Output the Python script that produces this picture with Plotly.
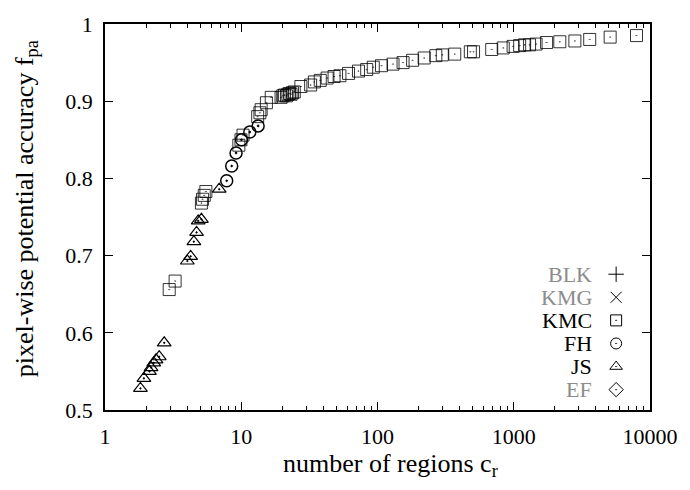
import plotly.graph_objects as go

# ---- data ----
kmc_x = [2.96, 3.27, 5.1, 5.2, 5.35, 5.5, 9.6, 9.95, 10.3, 13.2, 13.7, 14.0, 15.3, 16.6,
         19.6, 20.2, 20.8, 21.5, 22.0, 22.6, 23.2, 23.8, 24.5,
         27.4, 32.3, 34.4, 38.0, 42.7, 48.0, 53.0, 61.3, 72.5, 83.3, 93.1, 107, 130, 154,
         181, 220, 268, 299, 369, 480, 507, 689, 837, 989, 1105, 1202, 1306, 1459, 1742,
         2178, 2810, 3610, 5100, 7960]
kmc_y = [0.656, 0.667, 0.768, 0.773, 0.778, 0.783, 0.843, 0.850, 0.856, 0.880, 0.885, 0.889, 0.898, 0.905,
         0.905, 0.907, 0.908, 0.907, 0.909, 0.910, 0.909, 0.911, 0.912,
         0.919, 0.921, 0.925, 0.927, 0.930, 0.932, 0.933, 0.936, 0.939, 0.941, 0.944, 0.946, 0.948, 0.950,
         0.953, 0.956, 0.959, 0.960, 0.961, 0.964, 0.964, 0.967, 0.969, 0.971, 0.972, 0.973, 0.973, 0.974, 0.976,
         0.977, 0.978, 0.980, 0.983, 0.985]

fh_x = [7.82, 8.51, 9.16, 10.05, 11.56, 13.3]
fh_y = [0.797, 0.816, 0.833, 0.850, 0.860, 0.868]

js_x = [1.82, 1.93, 2.12, 2.18, 2.28, 2.37, 2.50, 2.72, 4.02, 4.25, 4.49, 4.70, 4.83, 5.10, 6.89]
js_y = [0.528, 0.541, 0.550, 0.555, 0.561, 0.565, 0.569, 0.587, 0.693, 0.699, 0.718, 0.730, 0.745, 0.747, 0.786]

legend_names = ["BLK", "KMG", "KMC", "FH", "JS", "EF"]
legend_colors = ["#8c8c8c", "#8c8c8c", "#000000", "#000000", "#000000", "#8c8c8c"]
legend_symbols = ["cross-thin-open", "x-thin-open", "square-open-dot", "circle-open-dot",
                  "triangle-up-open-dot", "diamond-open-dot"]

x_tickvals = [1, 10, 100, 1000, 10000]
x_ticktext = ["1", "10", "100", "1000", "10000"]
y_tickvals = [0.5, 0.6, 0.7, 0.8, 0.9, 1.0]
y_ticktext = ["0.5", "0.6", "0.7", "0.8", "0.9", "1"]

FONT = "Liberation Serif"
LINE = "rgba(0,0,0,0.8)"

fig = go.Figure()
fig.add_trace(go.Scatter(x=kmc_x, y=kmc_y, mode="markers", showlegend=False,
                         marker=dict(symbol="square-open-dot", size=12, color=LINE,
                                     line=dict(width=1, color=LINE))))
fig.add_trace(go.Scatter(x=fh_x, y=fh_y, mode="markers", showlegend=False,
                         marker=dict(symbol="circle-open-dot", size=12, color="black",
                                     line=dict(width=1.5, color="black"))))
fig.add_trace(go.Scatter(x=js_x, y=js_y, mode="markers", showlegend=False,
                         marker=dict(symbol="triangle-up-open-dot", size=12, color="black",
                                     line=dict(width=1.2, color="black"))))

# custom gnuplot-style key (text then symbol)
n = len(legend_names)
key_top, key_step = (410 - 270) / 398, 23.8 / 398
key_y = [key_top - i * key_step for i in range(n)]
key_sym_x = (622.7 - 105) / 552
key_txt_x = (600 - 105) / 552
fig.add_trace(go.Scatter(x=[key_sym_x] * n, y=key_y, mode="markers", showlegend=False,
                         xaxis="x2", yaxis="y2", hoverinfo="skip",
                         marker=dict(symbol=legend_symbols, size=11, color="black",
                                     line=dict(width=1, color="black"))))
annotations = []
for name, col, ky in zip(legend_names, legend_colors, key_y):
    annotations.append(dict(x=key_txt_x, y=ky, xref="paper", yref="paper", text=name,
                            showarrow=False, xanchor="right", yanchor="middle",
                            font=dict(family=FONT, size=22, color=col)))
annotations.append(dict(x=(394 - 105) / 552, y=-0.143, xref="paper", yref="paper",
                        text="number of regions c<sub>r</sub>", showarrow=False,
                        xanchor="center", yanchor="middle",
                        font=dict(family=FONT, size=26, color="black")))
annotations.append(dict(x=-0.145, y=(410 - 202) / 398, xref="paper", yref="paper",
                        text="pixel-wise potential accuracy f<sub>pa</sub>", showarrow=False,
                        textangle=-90, xanchor="center", yanchor="middle",
                        font=dict(family=FONT, size=26, color="black")))

fig.update_layout(
    width=690, height=490,
    margin=dict(l=105, r=33, t=12, b=80),
    paper_bgcolor="white", plot_bgcolor="white",
    font=dict(family=FONT, size=22, color="black"),
    annotations=annotations,
    xaxis=dict(type="log", range=[0, 4], tickvals=x_tickvals, ticktext=x_ticktext,
               ticks="inside", ticklen=8, tickwidth=1, tickcolor="black",
               showline=True, linecolor="black", linewidth=1.5, mirror="ticks",
               showgrid=False, zeroline=False, ticklabelstandoff=6,
               minor=dict(ticks="inside", ticklen=4, tickwidth=1, tickcolor="black",
                          dtick="D1", showgrid=False)),
    yaxis=dict(range=[0.5, 1], tickvals=y_tickvals, ticktext=y_ticktext,
               ticks="inside", ticklen=8, tickwidth=1, tickcolor="black",
               showline=True, linecolor="black", linewidth=1.5, mirror="ticks",
               showgrid=False, zeroline=False, ticklabelstandoff=6),
    xaxis2=dict(overlaying="x", range=[0, 1], visible=False),
    yaxis2=dict(overlaying="y", range=[0, 1], visible=False),
)

fig.write_html("out.html")
